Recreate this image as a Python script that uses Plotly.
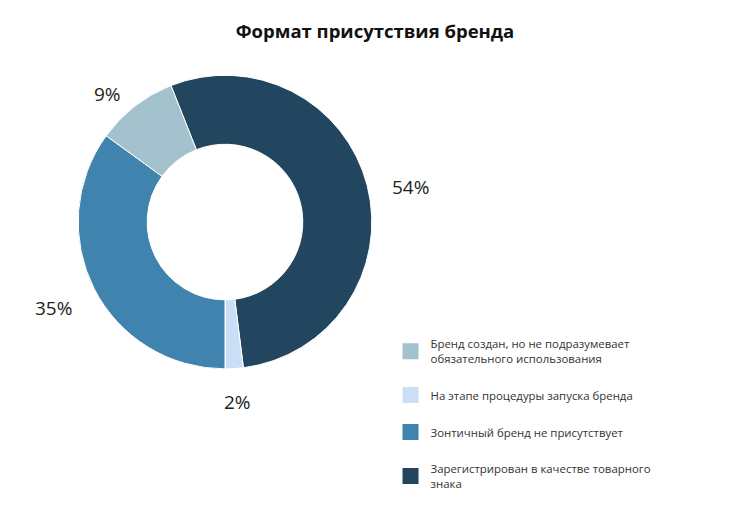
import math
import plotly.graph_objects as go

# Data (slice order clockwise from the top)
labels = ["Зарегистрирован в качестве товарного<br>знака",
          "На этапе процедуры запуска бренда",
          "Зонтичный бренд не присутствует",
          "Бренд создан, но не подразумевает<br>обязательного использования"]
values = [54, 2, 35, 9]
colors = ["#234660", "#cbdef7", "#3f83ae", "#a4c2cd"]

# Legend order as in the reference
legend_order = [3, 1, 2, 0]

W, H = 750, 530
dom_x = [0.104, 0.496]
dom_y = [0.304, 0.858]
rotation = -21.6

fig = go.Figure()
fig.add_trace(go.Pie(
    labels=labels, values=values, sort=False, direction="clockwise",
    rotation=rotation, hole=0.53,
    marker=dict(colors=colors, line=dict(color="white", width=1)),
    textinfo="none",
    showlegend=False,
    domain=dict(x=dom_x, y=dom_y),
    hoverinfo="label+percent",
))

# Percentage labels placed outside the ring along each slice's mid-angle
cx = (dom_x[0] + dom_x[1]) / 2 * W
cy = (dom_y[0] + dom_y[1]) / 2 * H
R = (dom_x[1] - dom_x[0]) * W / 2
total = sum(values)
cum = 0
for v in values:
    mid = math.radians(rotation + (cum + v / 2) / total * 360)
    cum += v
    px = cx + (R + 45) * math.sin(mid)
    py = cy + (R + 25) * math.cos(mid) - 8
    fig.add_annotation(
        x=px / W, y=py / H, xref="paper", yref="paper",
        text=f"{round(100 * v / total)}%", showarrow=False,
        xanchor="center", yanchor="middle",
        font=dict(family="Open Sans", size=19, color="#222222"),
    )

for i in legend_order:
    fig.add_trace(go.Scatter(
        x=[None], y=[None], mode="markers", name=labels[i],
        marker=dict(symbol="square", size=17, color=colors[i]),
        legendgroup=str(i), showlegend=True,
    ))

fig.update_layout(
    width=W, height=H,
    margin=dict(l=0, r=0, t=0, b=0),
    paper_bgcolor="white", plot_bgcolor="white",
    title=dict(text="<b>Формат присутствия бренда</b>", x=0.5, xanchor="center",
               y=0.94, yanchor="middle",
               font=dict(family="Open Sans", size=18.5, color="#111111")),
    xaxis=dict(visible=False), yaxis=dict(visible=False),
    legend=dict(x=0.5207, y=0.3775, xanchor="left", yanchor="top",
                font=dict(family="Open Sans", size=11.4, color="#333333"),
                tracegroupgap=18, itemsizing="trace"),
)

fig.write_html("out.html")
